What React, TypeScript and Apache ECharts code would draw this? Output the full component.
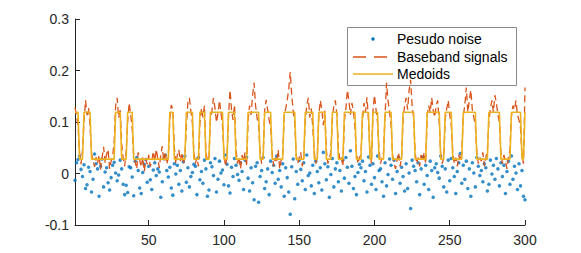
import React, { useEffect, useRef } from "react";
import * as echarts from "echarts";

const H = 0.119;
const L = 0.028;

// Medoids (two-level k-medoids output), samples 1..300
const medoids: number[] = [
  H, H, H, L, L, L, H, H, H, H,
  H, L, L, L, L, L, L, L, L, L,
  L, L, L, L, L, L, L, H, H, H,
  H, L, L, L, L, H, H, H, H, L,
  L, L, L, L, L, L, L, L, L, L,
  L, L, L, L, L, L, L, L, L, L,
  L, L, L, H, H, H, L, L, L, L,
  L, L, L, L, H, H, H, H, H, L,
  L, L, L, H, H, H, H, L, L, L,
  H, H, H, H, H, H, H, H, H, L,
  L, L, H, H, H, H, H, L, L, L,
  L, L, L, L, L, H, H, H, H, H,
  H, H, H, L, L, L, H, H, H, H,
  H, L, L, L, L, L, L, L, L, H,
  H, H, H, H, H, H, H, L, L, L,
  L, L, L, H, H, H, H, H, H, L,
  L, L, H, H, H, H, H, L, L, L,
  L, H, H, H, H, L, L, L, L, H,
  H, H, H, H, H, H, H, L, L, L,
  L, H, H, H, H, H, L, L, H, H,
  H, H, L, L, L, L, H, H, H, H,
  H, L, L, L, L, L, L, L, H, H,
  H, H, H, H, H, H, L, L, L, L,
  L, L, L, L, H, H, H, H, H, H,
  H, H, H, L, L, L, H, H, H, H,
  H, L, L, L, L, L, L, L, H, H,
  H, H, H, H, H, H, H, L, L, L,
  L, L, L, L, L, H, H, H, H, H,
  H, H, H, L, L, L, L, L, L, L,
  H, H, H, H, H, H, H, L, L, H,
];

const baseband: number[] = [
  0.128, 0.112, 0.094, 0.041, 0.018, 0.046, 0.103, 0.142, 0.113, 0.127,
  0.093, 0.038, 0.026, 0.013, 0.032, 0.019, 0.036, 0.008, 0.031, 0.052,
  0.021, 0.037, 0.047, 0.009, 0.024, 0.033, 0.061, 0.132, 0.147, 0.108,
  0.126, 0.058, 0.031, 0.014, 0.042, 0.101, 0.137, 0.114, 0.088, 0.034,
  0.022, 0.009, 0.041, 0.026, 0.013, 0.032, 0.004, 0.027, 0.018, 0.036,
  0.014, 0.022, 0.043, 0.024, 0.047, 0.029, 0.011, 0.036, 0.053, 0.023,
  0.042, 0.018, 0.031, 0.106, 0.133, 0.124, 0.051, 0.019, 0.036, 0.046,
  0.024, 0.041, 0.018, 0.032, 0.092, 0.138, 0.147, 0.121, 0.098, 0.041,
  0.019, 0.031, 0.014, 0.097, 0.127, 0.109, 0.132, 0.042, 0.024, 0.031,
  0.104, 0.122, 0.147, 0.128, 0.099, 0.117, 0.142, 0.118, 0.093, 0.036,
  0.014, 0.031, 0.112, 0.162, 0.124, 0.104, 0.133, 0.046, 0.019, 0.032,
  0.009, 0.036, 0.024, 0.041, 0.014, 0.102, 0.132, 0.114, 0.152, 0.176,
  0.131, 0.108, 0.094, 0.041, 0.019, 0.031, 0.122, 0.143, 0.124, 0.104,
  0.089, 0.041, 0.014, 0.031, 0.021, 0.046, 0.009, 0.026, 0.036, 0.112,
  0.126, 0.142, 0.163, 0.197, 0.152, 0.121, 0.098, 0.036, 0.019, 0.031,
  0.041, 0.014, 0.031, 0.102, 0.132, 0.147, 0.109, 0.126, 0.089, 0.041,
  0.019, 0.036, 0.112, 0.142, 0.124, 0.094, 0.122, 0.046, 0.019, 0.031,
  0.041, 0.106, 0.132, 0.142, 0.114, 0.051, 0.024, 0.031, 0.014, 0.102,
  0.126, 0.162, 0.141, 0.114, 0.137, 0.121, 0.089, 0.041, 0.019, 0.031,
  0.036, 0.101, 0.137, 0.119, 0.148, 0.104, 0.041, 0.019, 0.122, 0.152,
  0.124, 0.099, 0.046, 0.019, 0.031, 0.041, 0.112, 0.176, 0.142, 0.119,
  0.094, 0.036, 0.019, 0.009, 0.026, 0.041, 0.014, 0.031, 0.106, 0.132,
  0.147, 0.124, 0.162, 0.182, 0.131, 0.109, 0.041, 0.019, 0.031, 0.014,
  0.036, 0.024, 0.041, 0.019, 0.112, 0.132, 0.119, 0.147, 0.124, 0.109,
  0.132, 0.142, 0.099, 0.036, 0.019, 0.031, 0.106, 0.126, 0.142, 0.114,
  0.094, 0.041, 0.019, 0.031, 0.014, 0.036, 0.024, 0.041, 0.112, 0.132,
  0.167, 0.119, 0.142, 0.162, 0.124, 0.109, 0.094, 0.041, 0.019, 0.031,
  0.024, 0.041, 0.014, 0.031, 0.046, 0.101, 0.126, 0.142, 0.119, 0.152,
  0.137, 0.114, 0.099, 0.041, 0.019, 0.036, 0.024, 0.009, 0.031, 0.046,
  0.112, 0.132, 0.124, 0.142, 0.114, 0.104, 0.089, 0.036, 0.019, 0.167,
];

const pseudoNoise: number[] = [
  -0.013, 0.021, 0.027, 0.034, 0.008, -0.006, 0.017, -0.029, -0.022, 0.012,
  0.004, -0.036, -0.011, 0.038, 0.019, 0.009, -0.044, 0.014, 0.028, -0.026,
  0.003, 0.011, -0.018, -0.032, -0.008, 0.016, 0.022, 0.001, -0.014, -0.003,
  0.026, 0.009, -0.021, -0.041, -0.023, -0.037, 0.013, 0.011, -0.007, -0.043,
  0.024, 0.031, 0.006, -0.028, -0.039, 0.002, 0.018, 0.027, -0.017, 0.014,
  -0.012, -0.031, 0.007, 0.021, -0.004, 0.009, 0.003, -0.046, -0.016, 0.029,
  0.036, 0.006, -0.007, 0.012, -0.028, -0.042, 0.019, -0.001, 0.016, -0.021,
  0.006, -0.034, 0.023, 0.034, -0.017, 0.011, -0.026, -0.006, 0.002, 0.018,
  0.014, -0.041, 0.031, -0.012, 0.004, -0.019, 0.026, 0.009, -0.044, -0.032,
  0.021, 0.013, -0.004, 0.029, -0.036, -0.011, 0.024, 0.001, 0.007, -0.022,
  0.036, 0.018, -0.024, -0.038, 0.012, -0.006, 0.029, 0.016, -0.002, -0.013,
  0.021, 0.004, -0.031, 0.026, 0.032, -0.009, -0.034, 0.011, -0.018, -0.051,
  0.014, 0.021, -0.056, -0.006, 0.006, 0.031, -0.029, -0.016, 0.009, -0.041,
  0.024, 0.002, 0.016, -0.019, 0.034, -0.011, 0.006, -0.026, 0.019, -0.044,
  0.011, -0.008, -0.036, -0.079, 0.013, 0.028, -0.049, 0.004, -0.021, 0.026,
  0.008, -0.014, 0.021, -0.031, 0.036, -0.004, 0.001, -0.024, 0.016, -0.039,
  0.024, 0.004, -0.018, 0.011, -0.032, 0.041, 0.019, -0.012, 0.013, -0.046,
  -0.002, 0.029, -0.026, 0.009, 0.021, -0.016, 0.006, -0.034, 0.026, -0.009,
  0.031, 0.012, -0.019, 0.044, 0.014, -0.029, -0.006, -0.041, 0.002, 0.018,
  0.011, 0.024, -0.014, 0.004, -0.036, 0.032, 0.016, -0.021, 0.019, -0.008,
  -0.031, 0.034, 0.006, 0.009, -0.016, -0.044, 0.021, -0.024, -0.002, 0.028,
  0.016, -0.011, 0.026, -0.039, 0.004, 0.031, -0.019, 0.012, -0.006, -0.034,
  0.019, -0.029, 0.001, -0.068, 0.026, 0.014, 0.006, -0.016, 0.021, -0.041,
  0.009, 0.032, -0.021, 0.016, -0.004, -0.031, 0.024, 0.006, -0.046, 0.011,
  0.019, 0.002, -0.009, 0.034, 0.014, -0.026, 0.009, -0.036, 0.026, -0.014,
  0.029, 0.011, -0.006, -0.039, 0.004, 0.021, 0.039, -0.019, 0.016, -0.011,
  0.024, -0.029, 0.009, -0.044, 0.021, 0.001, -0.026, 0.031, 0.014, -0.004,
  0.006, -0.016, 0.019, 0.011, -0.034, -0.021, 0.026, -0.001, 0.016, -0.011,
  0.029, 0.009, -0.024, 0.021, -0.006, 0.016, -0.039, 0.004, 0.024, -0.021,
  0.034, -0.011, 0.014, 0.001, -0.031, 0.019, -0.024, 0.006, -0.044, -0.051,
];

const xTicks = [50, 100, 150, 200, 250, 300];
const legendNames = ["Pesudo noise", "Baseband signals", "Medoids"];

const BLUE = "#0072BD";
const ORANGE = "#D95319";
const YELLOW = "#EDB120";
const AXIS = "#262626";
const FONT = "'Liberation Sans', Arial, Helvetica, sans-serif";

export default function App() {
  const ref = useRef<HTMLDivElement>(null);
  useEffect(() => {
    if (!ref.current) return;
    const chart = echarts.init(ref.current, undefined, { renderer: "svg" });
    const toXY = (arr: number[]) => arr.map((v, i) => [i + 1, v]);
    const lx = 353, lx2 = 393, tx = 397;
    const rows = [39, 57, 74];
    chart.setOption({
      animation: false,
      backgroundColor: "#fff",
      textStyle: { fontFamily: FONT },
      grid: { left: 75, right: 56, top: 19, bottom: 28, containLabel: false },
      xAxis: {
        type: "value",
        min: 1,
        max: 300,
        axisLine: { show: true, onZero: false, lineStyle: { color: AXIS, width: 1 } },
        axisTick: { show: true, inside: true, length: 5, lineStyle: { color: AXIS }, customValues: xTicks },
        axisLabel: { color: AXIS, fontSize: 14, fontFamily: FONT, margin: 8, customValues: xTicks },
        splitLine: { show: false },
      },
      yAxis: {
        type: "value",
        min: -0.1,
        max: 0.3,
        interval: 0.1,
        axisLine: { show: true, onZero: false, lineStyle: { color: AXIS, width: 1 } },
        axisTick: { show: true, inside: true, length: 5, lineStyle: { color: AXIS } },
        axisLabel: { color: AXIS, fontSize: 14, fontFamily: FONT, margin: 6 },
        splitLine: { show: false },
      },
      series: [
        {
          name: legendNames[0],
          type: "scatter",
          data: toXY(pseudoNoise),
          symbol: "circle",
          symbolSize: 3.5,
          itemStyle: { color: BLUE },
        },
        {
          name: legendNames[1],
          type: "line",
          data: toXY(baseband),
          symbol: "none",
          lineStyle: { color: ORANGE, width: 1.3, type: [7, 4] },
        },
        {
          name: legendNames[2],
          type: "line",
          data: toXY(medoids),
          symbol: "none",
          lineStyle: { color: YELLOW, width: 1.6 },
        },
      ],
      graphic: [
        {
          type: "group",
          z: 100,
          children: [
            {
              type: "rect",
              shape: { x: 347.5, y: 27.5, width: 169, height: 58 },
              style: { fill: "#fff", stroke: "#8a8a8a", lineWidth: 1 },
            },
            {
              type: "circle",
              shape: { cx: 373, cy: rows[0], r: 1.7 },
              style: { fill: BLUE },
            },
            {
              type: "line",
              shape: { x1: lx, y1: rows[1], x2: lx2, y2: rows[1] },
              style: { stroke: ORANGE, lineWidth: 1.5, lineDash: [13, 8] },
            },
            {
              type: "line",
              shape: { x1: lx, y1: rows[2], x2: lx2, y2: rows[2] },
              style: { stroke: YELLOW, lineWidth: 1.5 },
            },
            ...legendNames.map((name, i) => ({
              type: "text",
              x: tx,
              y: rows[i],
              style: {
                text: name,
                fill: "#000",
                font: `14px ${FONT}`,
                align: "left",
                verticalAlign: "middle",
              },
            })),
          ],
        },
      ],
    });
    return () => chart.dispose();
  }, []);
  return (
    <div
      ref={ref}
      style={{ position: "fixed", left: 0, top: 0, width: 581, height: 253, background: "#fff" }}
    />
  );
}
